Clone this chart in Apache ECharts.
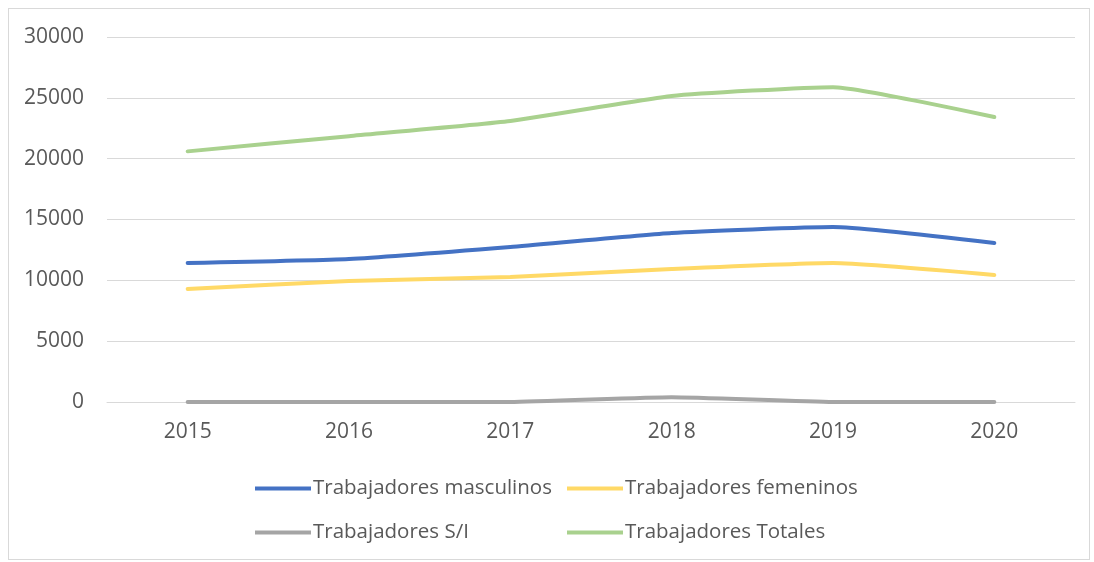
<!DOCTYPE html>
<html>
<head>
<meta charset="utf-8">
<script src="https://cdn.jsdelivr.net/npm/echarts@6/dist/echarts.min.js"></script>
<style>
    html, body { margin: 0; padding: 0; background: #fff; }
    #chart {
        position: absolute;
        left: 8px;
        top: 8px;
        width: 1082px;
        height: 552px;
        border: 1px solid #d9d9d9;
        box-sizing: border-box;
    }
</style>
</head>
<body>
<div id="chart"></div>
<script>
const years = ['2015', '2016', '2017', '2018', '2019', '2020'];
const masculinos = [11420, 11750, 12740, 13890, 14380, 13070];
const femeninos = [9290, 9940, 10270, 10930, 11420, 10440];
const sinInfo = [0, 0, 0, 400, 0, 0];
const totales = [20600, 21850, 23090, 25150, 25880, 23420];
const yTicks = [0, 5000, 10000, 15000, 20000, 25000, 30000];

const names = ['Trabajadores masculinos', 'Trabajadores femeninos', 'Trabajadores S/I', 'Trabajadores Totales'];
const colors = ['#4472C4', '#FFD966', '#A5A5A5', '#A9D18E'];
const values = [masculinos, femeninos, sinInfo, totales];

// one legend per item so the two columns line up like the original
const legendPos = [[241, 464], [553, 464], [241, 508], [553, 508]];
const legends = names.map((n, i) => ({
    data: [n],
    left: legendPos[i][0],
    top: legendPos[i][1],
    itemWidth: 56,
    itemHeight: 4,
    itemGap: 0,
    icon: 'rect',
    textStyle: { color: '#595959', fontSize: 20.5, fontFamily: 'Open Sans', padding: [0, 0, 0, -3] }
}));

const chart = echarts.init(document.getElementById('chart'));
chart.setOption({
    animation: false,
    color: colors,
    legend: legends,
    grid: { left: 98, right: 14, top: 28, bottom: 157 },
    xAxis: {
        type: 'category',
        data: years,
        boundaryGap: true,
        axisLine: { lineStyle: { color: '#d9d9d9', width: 1 } },
        axisTick: { show: false },
        axisLabel: { color: '#595959', fontSize: 21, fontFamily: 'Open Sans', margin: 20 }
    },
    yAxis: {
        type: 'value',
        min: yTicks[0],
        max: yTicks[yTicks.length - 1],
        interval: 5000,
        axisLine: { show: false },
        axisTick: { show: false },
        axisLabel: { color: '#595959', fontSize: 21, fontFamily: 'Open Sans', margin: 23, formatter: v => String(v) },
        splitLine: { lineStyle: { color: '#d9d9d9', width: 1 } }
    },
    series: names.map((n, i) => ({
        name: n,
        type: 'line',
        data: values[i],
        smooth: 0.15,
        symbol: 'none',
        lineStyle: { width: 4, color: colors[i], cap: 'round' }
    }))
});
</script>
</body>
</html>
